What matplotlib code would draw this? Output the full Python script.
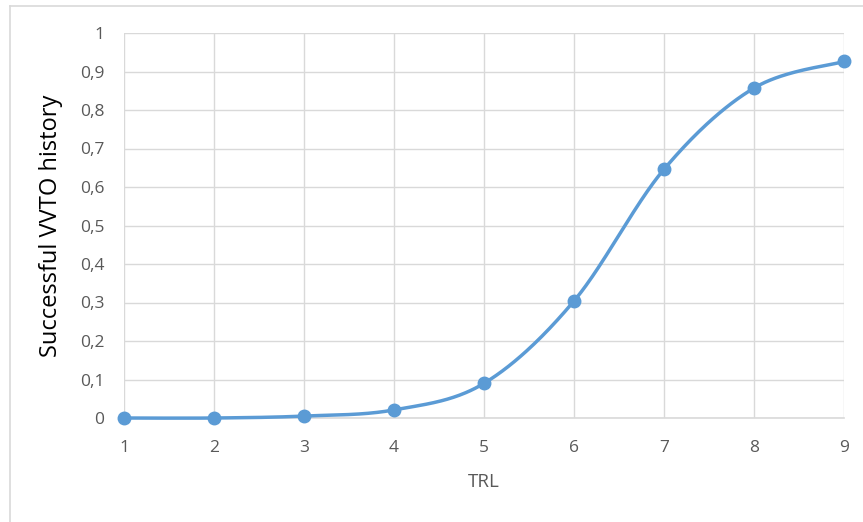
import numpy as np
import matplotlib
matplotlib.use("Agg")
import matplotlib.pyplot as plt
from matplotlib.lines import Line2D

trl = [1, 2, 3, 4, 5, 6, 7, 8, 9]
success = [0.0, 0.0, 0.005, 0.021, 0.090, 0.304, 0.646, 0.857, 0.926]
y_ticks = [0, 0.1, 0.2, 0.3, 0.4, 0.5, 0.6, 0.7, 0.8, 0.9, 1.0]
y_tick_labels = ["0", "0,1", "0,2", "0,3", "0,4", "0,5", "0,6", "0,7", "0,8", "0,9", "1"]

LINE_COLOR = "#5b9bd5"
TEXT_COLOR = "#595959"
GRID_COLOR = "#d9d9d9"


def smooth_curve(xs, ys, n=60):
    """Bezier smoothing through every point (Catmull-Rom style control points)."""
    xs = np.asarray(xs, float)
    ys = np.asarray(ys, float)
    px = np.concatenate([[xs[0]], xs, [xs[-1]]])
    py = np.concatenate([[ys[0]], ys, [ys[-1]]])
    out_x, out_y = [], []
    t = np.linspace(0, 1, n)
    for i in range(1, len(px) - 2):
        p0 = np.array([px[i], py[i]])
        p3 = np.array([px[i + 1], py[i + 1]])
        c1 = p0 + (np.array([px[i + 1], py[i + 1]]) - np.array([px[i - 1], py[i - 1]])) / 6
        c2 = p3 - (np.array([px[i + 2], py[i + 2]]) - np.array([px[i], py[i]])) / 6
        b = ((1 - t) ** 3)[:, None] * p0 + (3 * (1 - t) ** 2 * t)[:, None] * c1 \
            + (3 * (1 - t) * t ** 2)[:, None] * c2 + (t ** 3)[:, None] * p3
        out_x.extend(b[:, 0])
        out_y.extend(b[:, 1])
    return np.array(out_x), np.array(out_y)


plt.rcParams["font.family"] = ["Open Sans", "DejaVu Sans"]

fig = plt.figure(figsize=(8.63, 5.22), dpi=100)
W, H = 863, 522
ax = fig.add_axes([124 / W, (H - 418) / H, (844 - 124) / W, (418 - 33) / H])

sx, sy = smooth_curve(trl, success)
ax.plot(sx, sy, color=LINE_COLOR, lw=2.5, solid_capstyle="round", zorder=3, clip_on=False)
ax.plot(trl, success, "o", color=LINE_COLOR, ms=9, zorder=4, clip_on=False)

ax.set_xlim(1, 9)
ax.set_ylim(0, 1)
ax.set_xticks(trl)
ax.set_xticklabels([str(v) for v in trl])
ax.set_yticks(y_ticks)
ax.set_yticklabels(y_tick_labels)

ax.grid(True, color=GRID_COLOR, lw=1)
ax.set_axisbelow(True)
for side in ["top", "right", "left"]:
    ax.spines[side].set_visible(False)
ax.spines["bottom"].set_color(GRID_COLOR)
ax.spines["bottom"].set_linewidth(1.2)
ax.tick_params(axis="both", length=0, labelsize=12.5, labelcolor=TEXT_COLOR)
ax.tick_params(axis="x", pad=16)
ax.tick_params(axis="y", pad=14)

ax.set_xlabel("TRL", fontsize=13.5, color=TEXT_COLOR, labelpad=12)
ax.set_ylabel("Successful VVTO history", fontsize=17, color="black", labelpad=12)

# chart frame (left and top edges)
fig.add_artist(Line2D([10 / W, 10 / W], [0, (H - 6) / H], color="#d9d9d9", lw=1.2))
fig.add_artist(Line2D([10 / W, 1], [(H - 6) / H, (H - 6) / H], color="#d9d9d9", lw=1.2))

fig.savefig("out.png", dpi=100)
